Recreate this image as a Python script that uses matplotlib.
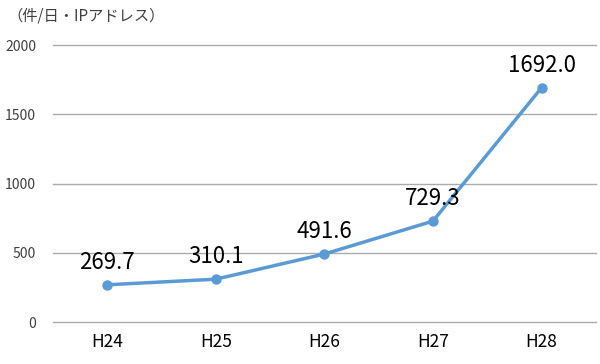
import matplotlib.pyplot as plt

plt.rcParams['font.family'] = ['Noto Sans CJK JP', 'DejaVu Sans']

years = ['H24', 'H25', 'H26', 'H27', 'H28']
counts = [269.7, 310.1, 491.6, 729.3, 1692.0]
yticks = [0, 500, 1000, 1500, 2000]

fig = plt.figure(figsize=(6, 3.64), dpi=100)
ax = fig.add_axes([0.088, 0.115, 0.905, 0.761])

x = range(len(years))
ax.plot(x, counts, color='#5B9BD5', lw=2.5, marker='o', ms=6.5, zorder=3)
for xi, v in zip(x, counts):
    ax.annotate(f'{v:.1f}', (xi, v), xytext=(0, 8), textcoords='offset points',
                ha='center', va='bottom', fontsize=16, color='#000000')

ax.set_xlim(-0.5, len(years) - 0.5)
ax.set_ylim(0, 2000)
ax.set_yticks(yticks)
ax.set_xticks(list(x))
ax.set_xticklabels(years, fontsize=12.5, color='#000000')
ax.tick_params(axis='y', labelsize=10, labelcolor='#404040', length=0, pad=12)
ax.tick_params(axis='x', length=0, pad=8)
ax.grid(axis='y', color='#ABABAB', lw=1)
for gl in ax.get_ygridlines():
    gl.set_clip_on(False)
ax.set_axisbelow(True)
for s in ax.spines.values():
    s.set_visible(False)

fig.text(0.012, 0.955, '（件/日・IPアドレス）', fontsize=11, color='#404040', va='center')

fig.savefig('out.png')
